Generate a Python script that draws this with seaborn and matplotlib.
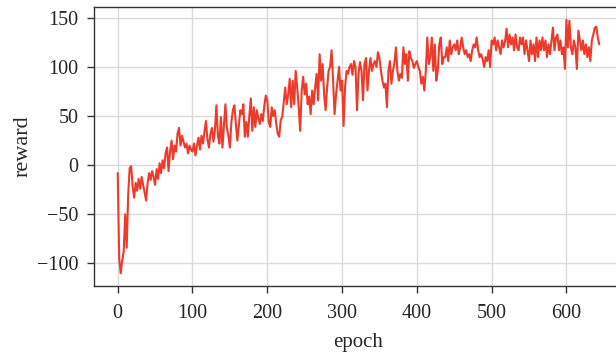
# Training reward curve (reward per epoch)

import numpy as np
import pandas as pd
import matplotlib
matplotlib.use("Agg")
import matplotlib.pyplot as plt
import seaborn as sns


# ------------------------------------------------------------
# Data (one value every 2 epochs)
# ------------------------------------------------------------

EPOCH_STEP = 2

reward_000 = [-8, -95, -110, -97, -88, -50, -84, -30, -3, -1,
              -22, -33, -18, -26, -14, -24, -12, -20, -28, -36,
              -18, -8, -15, -6, -12, -20, -4, -14, 2, -8,
              5, -3, 12, 18, -6, 14, 25, 6, 20, 14,
              32, 38, 20, 30, 24, 18, 22, 12, 20, 16]

reward_100 = [14, 22, 10, 20, 28, 16, 30, 22, 34, 45,
              26, 18, 32, 38, 24, 36, 61, 30, 22, 49,
              18, 40, 62, 38, 30, 18, 44, 56, 61, 42,
              25, 40, 56, 52, 62, 29, 44, 29, 50, 68,
              35, 59, 39, 56, 48, 42, 52, 45, 60, 71]

reward_200 = [66, 44, 39, 59, 50, 56, 42, 32, 29, 46,
              49, 64, 79, 62, 72, 88, 59, 86, 62, 96,
              79, 59, 35, 76, 90, 72, 83, 62, 70, 52,
              76, 62, 79, 93, 66, 113, 86, 103, 72, 56,
              79, 96, 100, 117, 86, 52, 72, 86, 100, 76]

reward_300 = [86, 40, 79, 96, 93, 100, 103, 92, 106, 100,
              56, 93, 105, 96, 66, 103, 109, 76, 96, 109,
              96, 103, 106, 100, 115, 109, 96, 86, 79, 83,
              59, 96, 106, 83, 96, 104, 120, 96, 86, 93,
              89, 120, 103, 113, 86, 116, 109, 106, 99, 103]

reward_400 = [106, 100, 96, 83, 90, 76, 96, 130, 103, 110,
              130, 96, 123, 86, 96, 123, 130, 103, 110, 110,
              120, 106, 127, 113, 120, 123, 117, 127, 113, 120,
              130, 120, 113, 117, 110, 113, 106, 117, 123, 120,
              130, 117, 110, 113, 108, 100, 110, 106, 117, 100]

reward_500 = [127, 123, 130, 117, 127, 120, 113, 127, 120, 126,
              139, 120, 133, 123, 130, 117, 133, 120, 117, 130,
              123, 130, 113, 127, 117, 106, 127, 113, 123, 106,
              130, 110, 127, 117, 130, 117, 127, 110, 123, 113,
              127, 140, 117, 130, 133, 117, 127, 113, 120, 98]

reward_600 = [148, 120, 147, 120, 113, 127, 120, 98, 137, 127,
              117, 127, 113, 123, 110, 120, 106, 127, 133, 140,
              141, 130, 123]

reward = (reward_000 + reward_100 + reward_200 + reward_300
          + reward_400 + reward_500 + reward_600)
epochs = np.arange(len(reward)) * EPOCH_STEP

df = pd.DataFrame({"epoch": epochs, "reward": reward})


# ------------------------------------------------------------
# Theme
# ------------------------------------------------------------

sns.set_theme(style="whitegrid")
plt.rcParams["font.family"] = ["Liberation Serif", "DejaVu Serif"]
plt.rcParams["axes.edgecolor"] = "#333333"
plt.rcParams["axes.linewidth"] = 1.0
plt.rcParams["grid.color"] = "#dadada"
plt.rcParams["grid.linewidth"] = 1.0
plt.rcParams["xtick.bottom"] = True
plt.rcParams["ytick.left"] = True


# ------------------------------------------------------------
# Plot
# ------------------------------------------------------------

fig = plt.figure(figsize=(6.16, 3.57), dpi=100)
ax = fig.add_axes([0.152, 0.199, 0.860, 0.781])

sns.lineplot(data=df, x="epoch", y="reward", color="#ee3a2a",
             linewidth=1.5, ax=ax)

ax.set_xticks([0, 100, 200, 300, 400, 500, 600])
ax.set_yticks([-100, -50, 0, 50, 100, 150])
ax.set_yticklabels(["\u2212100", "\u221250", "0", "50", "100", "150"])
ax.tick_params(axis="both", labelsize=14.5, length=5, width=1,
               color="#333333")
ax.tick_params(axis="x", pad=8)
ax.tick_params(axis="y", pad=6)
ax.set_xlabel("epoch", fontsize=15, labelpad=7)
ax.set_ylabel("reward", fontsize=16, labelpad=3)
ax.spines["right"].set_visible(False)

fig.savefig("out.png", dpi=100)
plt.close(fig)
